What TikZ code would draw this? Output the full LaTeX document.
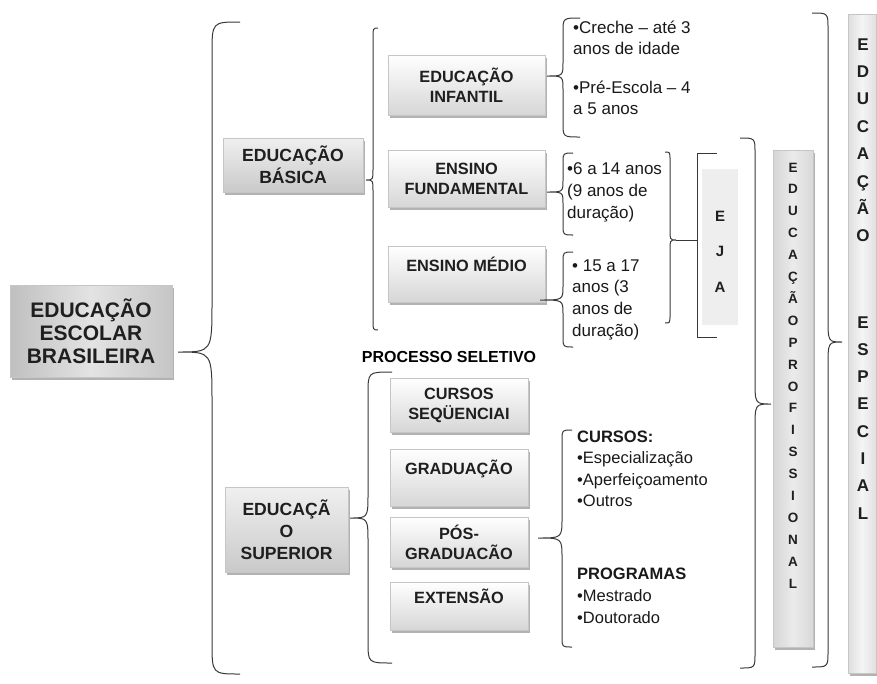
\documentclass[tikz,border=0pt]{standalone}
\usepackage{fontspec}
\setmainfont{Liberation Sans}
\usetikzlibrary{shadows}
\newcommand\mybrace[8]{% xe, xv, ytop, rend, xtip, ytip, rtip, ybot
  \draw[bracestyle] (#1,#3) .. controls (#2,#3) .. (#2,#3+#4) -- (#2,#6-#7)
    .. controls (#2,#6) .. (#5,#6) .. controls (#2,#6) .. (#2,#6+#7)
    -- (#2,#8-#4) .. controls (#2,#8) .. (#1,#8);}
\newcommand\txtlines[6]{% prefix, x, first baseline, spacing, style, list
  \foreach \t [count=\i from 0] in {#6} {\node[#5, name=#1\i] at (#2,#3+#4*\i) {\t};}}
\begin{document}
\begin{tikzpicture}[x=1pt,y=-1pt,
  bracestyle/.style={draw=black!78, line width=1pt},
  shad/.style={drop shadow={shadow xshift=2pt, shadow yshift=-3pt, fill=black!55, opacity=0.55}},
  basebox/.style={shad, draw=gray!45, line width=0.4pt, inner sep=0pt, align=center, text=black!88},
  titlebox/.style={basebox, left color=gray!50, right color=gray!45, middle color=gray!22,
    font=\bfseries\fontsize{21}{23}\selectfont},
  mainbox/.style={basebox, top color=gray!12, bottom color=gray!42,
    font=\bfseries\fontsize{17.6}{22}\selectfont},
  subbox/.style={basebox, top color=white, bottom color=gray!32,
    font=\bfseries\fontsize{16.3}{20}\selectfont},
  tallbox/.style={basebox, left color=gray!32, right color=gray!30, middle color=gray!16},
  body/.style={anchor=base west, inner sep=0pt, font=\fontsize{17}{20}\selectfont, text=black!90},
  bodys/.style={body, font=\fontsize{16.5}{20}\selectfont},
  vlet/.style={anchor=base, inner sep=0pt, text=black!88},
]
\useasboundingbox (0,0) rectangle (877,683);

% ---- boxes ----
\node[titlebox, minimum width=162pt, minimum height=92pt] (tit) at (91,331) {EDUCAÇÃO\\ESCOLAR\\BRASILEIRA};
\node[mainbox, minimum width=140pt, minimum height=54pt] (bas) at (293,165) {EDUCAÇÃO\\BÁSICA};
\node[mainbox, minimum width=123pt, minimum height=85pt] (sup) at (286.5,529.5) {EDUCAÇÃ\\O\\SUPERIOR};

\node[subbox, minimum width=157pt, minimum height=60pt] (inf) at (466.5,85) {EDUCAÇÃO\\INFANTIL};
\node[subbox, minimum width=157pt, minimum height=57pt] (fun) at (466.5,178.5) {ENSINO\\FUNDAMENTAL};
\node[subbox, minimum width=157pt, minimum height=56pt] (med) at (466.5,274) {ENSINO MÉDIO\\\mbox{}};

\node[subbox, minimum width=138pt, minimum height=54pt] (seq) at (459,405) {CURSOS\\SEQÜENCIAI};
\node[subbox, minimum width=138pt, minimum height=57pt] (gra) at (459,477.5) {GRADUAÇÃO\\\mbox{}};
\node[subbox, minimum width=138pt, minimum height=50pt] (pos) at (459,542) {PÓS-\\GRADUACÃO};
\node[subbox, minimum width=138pt, minimum height=48pt] (ext) at (459,606) {EXTENSÃO\\\mbox{}};

\node[fill=gray!13, inner sep=0pt, minimum width=36pt, minimum height=156pt] (eja) at (720,247) {};
\node[tallbox, minimum width=40pt, minimum height=497pt] (prof) at (793,398.5) {};
\node[tallbox, left color=gray!26, right color=gray!24, middle color=gray!8,
      minimum width=28pt, minimum height=659pt] (esp) at (862,343.5) {};

% ---- vertical letters ----
\foreach \l [count=\i from 0] in {E,J,A}
  {\node[vlet, font=\bfseries\fontsize{15}{15}\selectfont, name=ej\i] at (720,221+35.5*\i) {\l};}
\foreach \l [count=\i from 0] in {E,D,U,C,A,Ç,Ã,O,P,R,O,F,I,S,S,I,O,N,A,L}
  {\node[vlet, font=\bfseries\fontsize{13.5}{13.5}\selectfont, name=pf\i] at (793,172+21.9*\i) {\l};}
\foreach \l [count=\i from 0] in {E,D,U,C,A,Ç,Ã,O}
  {\node[vlet, font=\bfseries\fontsize{17}{17}\selectfont, name=ea\i] at (863,50+27.4*\i) {\l};}
\foreach \l [count=\i from 0] in {E,S,P,E,C,I,A,L}
  {\node[vlet, font=\bfseries\fontsize{17}{17}\selectfont, name=eb\i] at (863,328+27.3*\i) {\l};}

% ---- texts ----
\node[font=\bfseries\fontsize{16}{16}\selectfont, inner sep=0pt] (proc) at (449,357) {PROCESSO SELETIVO};
\txtlines{ia}{573}{33}{21.5}{body}{•Creche – até 3,anos de idade}
\txtlines{ib}{573}{93}{21.5}{body}{•Pré-Escola – 4,a 5 anos}
\txtlines{fa}{567}{174}{22}{body}{•6 a 14 anos,{(9 anos de},duração)}
\txtlines{ma}{572}{271}{21.7}{body}{• 15 a 17,anos (3,anos de,duração)}
\txtlines{ca}{577}{442}{21.5}{bodys}{{\textbf{CURSOS:}},•Especialização,•Aperfeiçoamento,•Outros}
\txtlines{pa}{577}{579}{22}{bodys}{{\textbf{PROGRAMAS}},•Mestrado,•Doutorado}

% ---- braces ----
\mybrace{240}{212}{22}{32}{178}{352}{50}{674}
\mybrace{378}{373}{28}{12}{366}{180}{12}{330}
\mybrace{580}{563}{18}{14}{547}{76}{14}{137}
\mybrace{573}{563}{153}{10}{547}{192}{12}{235}
\mybrace{573}{563}{252}{10}{540}{300}{14}{347}
\mybrace{392}{368}{372}{22}{350}{518}{25}{663}
\mybrace{572}{562}{430}{10}{538}{538}{20}{647}
\mybrace{665}{670}{152}{8}{676}{240}{12}{323}
\mybrace{740}{755}{138}{15}{771}{404}{25}{668}
\mybrace{812}{828}{13}{16}{842}{342}{25}{667}

% ---- EJA bracket ----
\coordinate (ejatip) at (676,240);
\coordinate (ejabr) at (697,240);
\draw[bracestyle] (ejatip) -- (ejabr);
\draw[bracestyle] (717,153) -- (697,153) -- (697,337) -- (717,337);
\end{tikzpicture}
\end{document}
